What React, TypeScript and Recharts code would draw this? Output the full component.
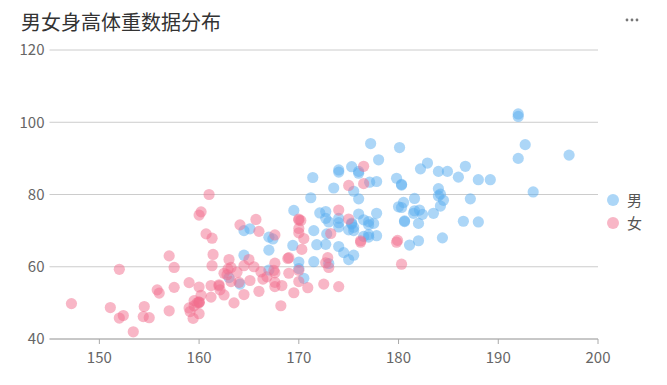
import React from 'react';
import { ScatterChart, Scatter, XAxis, YAxis, CartesianGrid } from 'recharts';

const femaleData: [number, number][] = [
  [161.2, 51.6], [167.5, 59.0], [159.5, 49.2], [157.0, 63.0], [155.8, 53.6],
  [170.0, 59.0], [159.1, 47.6], [166.0, 69.8], [176.2, 66.8], [160.2, 75.2],
  [172.5, 55.2], [170.9, 54.2], [172.9, 62.5], [153.4, 42.0], [160.0, 50.0],
  [147.2, 49.8], [168.2, 49.2], [175.0, 73.2], [157.0, 47.8], [167.6, 68.8],
  [159.5, 50.6], [175.0, 82.5], [166.8, 57.2], [176.5, 87.8], [170.2, 72.8],
  [174.0, 54.5], [173.0, 59.8], [179.9, 67.3], [170.5, 67.8], [160.0, 47.0],
  [154.4, 46.2], [162.0, 55.0], [176.5, 83.0], [160.0, 54.4], [152.0, 45.8],
  [162.1, 53.6], [170.0, 73.2], [160.2, 52.1], [161.3, 67.9], [166.4, 56.6],
  [168.9, 62.3], [163.8, 58.5], [167.6, 54.5], [160.0, 50.2], [161.3, 60.3],
  [167.6, 58.3], [165.1, 56.2], [160.0, 50.2], [170.0, 72.9], [157.5, 59.8],
  [167.6, 61.0], [160.7, 69.1], [163.2, 55.9], [152.4, 46.5], [157.5, 54.3],
  [168.3, 54.8], [180.3, 60.7], [165.5, 60.0], [165.0, 62.0], [164.5, 60.3],
  [156.0, 52.7], [160.0, 74.3], [163.0, 62.0], [165.7, 73.1], [161.0, 80.0],
  [162.0, 54.7], [166.0, 53.2], [174.0, 75.7], [172.7, 61.1], [167.6, 55.7],
  [151.1, 48.7], [164.5, 52.3], [163.5, 50.0], [152.0, 59.3], [169.0, 62.5],
  [164.0, 55.7], [161.2, 54.8], [155.0, 45.9], [170.0, 70.6], [176.2, 67.2],
  [170.0, 69.4], [162.5, 58.2], [170.3, 64.8], [164.1, 71.6], [169.5, 52.8],
  [163.2, 59.8], [154.5, 49.0], [159.8, 50.0], [173.2, 69.2], [170.0, 55.9],
  [161.4, 63.4], [169.0, 58.2], [166.2, 58.6], [159.4, 45.7], [162.5, 52.2],
  [159.0, 48.6], [162.8, 57.8], [159.0, 55.6], [179.8, 66.8], [162.9, 59.4],
];

const maleData: [number, number][] = [
  [174.0, 65.6], [175.3, 71.8], [193.5, 80.7], [186.5, 72.6], [187.2, 78.8],
  [181.5, 74.8], [184.0, 86.4], [184.5, 78.4], [175.0, 62.0], [184.0, 81.6],
  [180.0, 76.6], [177.8, 83.6], [192.0, 90.0], [176.0, 74.6], [174.0, 71.0],
  [184.0, 79.6], [192.7, 93.8], [171.5, 70.0], [173.0, 72.4], [176.0, 85.9],
  [176.0, 78.8], [180.5, 77.8], [172.7, 66.2], [176.0, 86.4], [173.5, 81.8],
  [178.0, 89.6], [180.3, 82.8], [180.3, 76.4], [164.5, 63.2], [173.0, 60.9],
  [183.5, 74.8], [175.5, 70.0], [188.0, 72.4], [189.2, 84.1], [172.8, 69.1],
  [170.0, 59.5], [182.0, 67.2], [170.0, 61.3], [177.8, 68.6], [184.2, 80.1],
  [186.7, 87.8], [171.4, 84.7], [172.7, 73.4], [175.3, 72.1], [180.3, 82.6],
  [182.9, 88.7], [188.0, 84.1], [177.2, 94.1], [172.1, 74.9], [167.0, 59.1],
  [169.5, 75.6], [174.0, 86.2], [172.7, 75.3], [182.2, 87.1], [164.1, 55.2],
  [163.0, 57.0], [171.5, 61.4], [184.2, 76.8], [174.0, 86.8], [174.0, 72.2],
  [177.0, 71.6], [186.0, 84.8], [167.0, 68.2], [171.8, 66.1], [182.0, 72.0],
  [167.0, 64.6], [177.8, 74.8], [164.5, 70.0], [192.0, 101.6], [175.5, 63.2],
  [171.2, 79.1], [181.6, 78.9], [167.4, 67.7], [181.1, 66.0], [177.0, 68.2],
  [174.5, 63.9], [177.5, 72.0], [170.5, 56.8], [182.4, 74.5], [197.1, 90.9],
  [180.1, 93.0], [175.5, 80.9], [180.6, 72.7], [184.4, 68.0], [175.5, 70.9],
  [180.6, 72.5], [177.0, 72.5], [177.1, 83.4], [181.6, 75.5], [176.5, 73.0],
  [175.0, 70.2], [174.0, 73.4], [165.1, 70.5], [177.0, 68.9], [192.0, 102.3],
  [176.5, 68.4], [169.4, 65.9], [182.1, 75.7], [179.8, 84.5], [175.3, 87.7],
  [184.9, 86.4],
];

const xTicks = [150, 160, 170, 180, 190, 200];
const yTicks = [40, 60, 80, 100, 120];
const seriesNames = ['男', '女'];

const toPoints = (arr: [number, number][]) => arr.map(([h, w]) => ({ h, w }));
const male = toPoints(maleData);
const female = toPoints(femaleData);

const BLUE = '#5AAEEF';
const PINK = '#F26D8E';
const FONT = '"Noto Sans CJK SC", "Noto Sans", sans-serif';

const makeShape = (color: string) => (props: any) => (
  <circle cx={props.cx} cy={props.cy} r={5.6} fill={color} fillOpacity={0.5} />
);

export default function App() {
  return (
    <div style={{ position: 'absolute', left: 0, top: 0, width: 667, height: 385, background: '#fff' }}>
      <div
        style={{
          position: 'absolute',
          left: 21,
          top: 9,
          fontSize: 20,
          lineHeight: '26px',
          color: '#333',
          fontFamily: FONT,
        }}
      >
        男女身高体重数据分布
      </div>
      <svg width={20} height={8} style={{ position: 'absolute', left: 622, top: 16 }}>
        <circle cx={5} cy={4} r={1.4} fill="#777" />
        <circle cx={10} cy={4} r={1.4} fill="#777" />
        <circle cx={15} cy={4} r={1.4} fill="#777" />
      </svg>
      <div style={{ position: 'absolute', left: 606, top: 188, fontFamily: FONT }}>
        {seriesNames.map((name, i) => (
          <div key={name} style={{ display: 'flex', alignItems: 'center', height: 23 }}>
            <svg width={14} height={14} style={{ marginRight: 7 }}>
              <circle cx={7} cy={7} r={6} fill={i === 0 ? BLUE : PINK} fillOpacity={0.5} />
            </svg>
            <span style={{ fontSize: 15, color: '#555' }}>{name}</span>
          </div>
        ))}
      </div>
      <ScatterChart
        width={667}
        height={385}
        margin={{ top: 50, right: 69, bottom: 6, left: 9.5 }}
        style={{ fontFamily: FONT }}
      >
        <CartesianGrid horizontal vertical={false} stroke="#ccc" />
        <XAxis
          type="number"
          dataKey="h"
          domain={[145, 200]}
          ticks={xTicks}
          allowDataOverflow
          height={40}
          tickSize={5}
          tickMargin={8}
          stroke="#aaa"
          tick={{ fill: '#666', fontSize: 15 }}
        />
        <YAxis
          type="number"
          dataKey="w"
          domain={[40, 120]}
          ticks={yTicks}
          width={40}
          axisLine={false}
          tickLine={false}
          tickSize={0}
          tickMargin={5}
          tick={{ fill: '#666', fontSize: 15 }}
        />
        <Scatter name="男" data={male} isAnimationActive={false} shape={makeShape(BLUE)} />
        <Scatter name="女" data={female} isAnimationActive={false} shape={makeShape(PINK)} />
      </ScatterChart>
    </div>
  );
}
